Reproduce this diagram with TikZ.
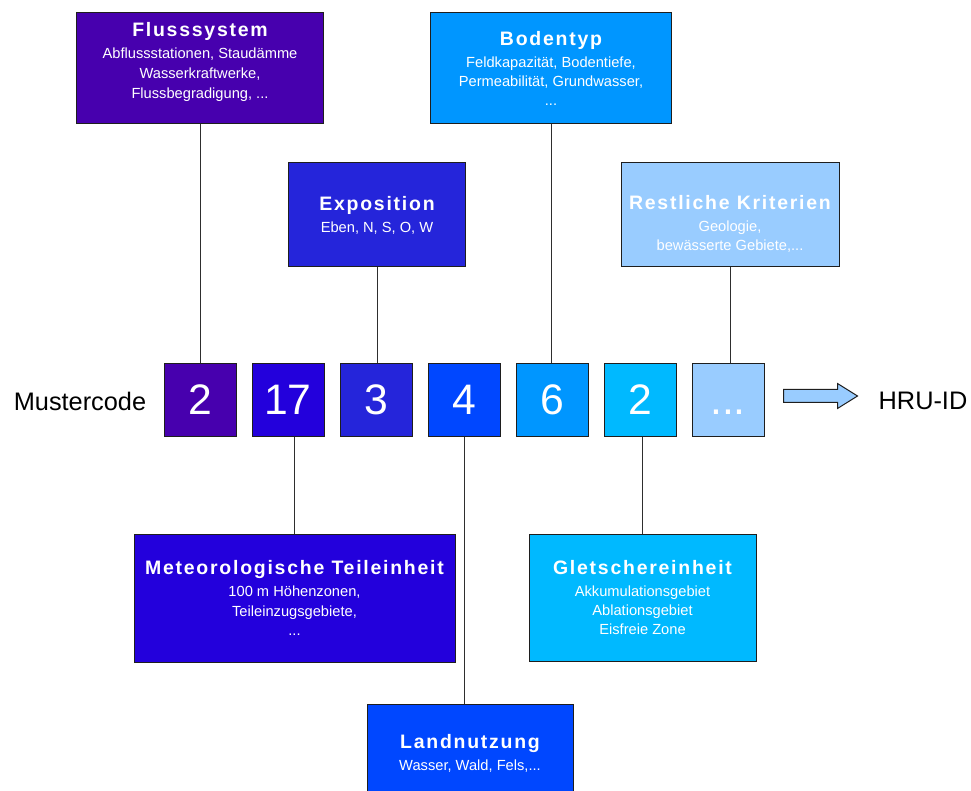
\documentclass[tikz,border=0pt]{standalone}
\usepackage{fontspec}
\setmainfont{Liberation Sans}
\usetikzlibrary{shapes.arrows}
\definecolor{frame}{HTML}{1E1E1E}
\definecolor{wire}{HTML}{2E2E2E}
\definecolor{flusscol}{HTML}{4700AE}
\definecolor{meteocol}{HTML}{2300DC}
\definecolor{expocol}{HTML}{2525DA}
\definecolor{landcol}{HTML}{0047FF}
\definecolor{bodencol}{HTML}{0096FF}
\definecolor{gletschcol}{HTML}{00B9FF}
\definecolor{restcol}{HTML}{99CCFF}
\tikzset{
  infobox/.style={draw=frame,line width=.75pt,text=white,align=center,inner sep=2pt,
    font=\fontsize{11}{14.5}\selectfont},
  codebox/.style={draw=frame,line width=.75pt,text=white,inner sep=0pt,
    minimum width=54pt,minimum height=54.75pt,font=\fontsize{32}{36}\selectfont},
  sidelabel/.style={font=\fontsize{19}{22}\selectfont},
  link/.style={draw=wire,line width=.75pt},
  idarrow/.style={single arrow,draw=frame,fill=restcol,line width=.75pt,inner sep=4.5pt,
    minimum height=55.5pt,single arrow head extend=4.5pt,single arrow tip angle=64},
}
\newcommand{\boxhead}[1]{{\fontsize{14.6}{17}\selectfont\bfseries\addfontfeatures{LetterSpace=9}#1}}
\newcommand{\moredots}{\vphantom{0}...}

\begin{document}
\begin{tikzpicture}[x=.75pt,y=-.75pt]
  \useasboundingbox (0,0) rectangle (971,791);

  % Upper criteria boxes.
  \node[infobox,fill=flusscol,minimum width=185.25pt,minimum height=83.25pt] (flus) at (200,68.5)
    {\boxhead{Flusssystem}\\[2pt] Abflussstationen, Staudämme\\[0.5pt] Wasserkraftwerke,\\[0.5pt]
     Flussbegradigung, ...\\[-2pt]\mbox{}};
  \node[infobox,fill=bodencol,minimum width=180.75pt,minimum height=83.25pt] (boden) at (551,68.5)
    {\boxhead{Bodentyp}\\[2pt] Feldkapazität, Bodentiefe,\\ Permeabilität, Grundwasser,\\ ...};
  \node[infobox,fill=expocol,minimum width=132.75pt,minimum height=78pt] (expo) at (377,215)
    {\boxhead{Exposition}\\[2pt] Eben, N, S, O, W};
  \node[infobox,fill=restcol,minimum width=163.5pt,minimum height=78pt] (rest) at (730,215)
    {\mbox{}\\[9pt]\boxhead{Restliche Kriterien}\\[2pt] Geologie,\\ bewässerte Gebiete,...};

  % Code row.
  \node[sidelabel] (muster) at (80,401) {Mustercode};
  \foreach \name/\x/\col/\txt in {c1/200/flusscol/2,c2/288/meteocol/17,c3/376/expocol/3,
      c4/464/landcol/4,c5/552/bodencol/6,c6/640/gletschcol/2,c7/728/restcol/\moredots}
    \node[codebox,fill=\col] (\name) at (\x,400) {\txt};
  \node[idarrow,anchor=tail] (toid) at (783,396) {};
  \node[sidelabel] (hru) at (923,401) {HRU-ID};

  % Lower criteria boxes.
  \node[infobox,fill=meteocol,minimum width=240.75pt,minimum height=96pt] (meteo) at (294.5,598)
    {\boxhead{Meteorologische Teileinheit}\\[2pt] 100 m Höhenzonen,\\ Teileinzugsgebiete,\\ ...};
  \node[infobox,fill=gletschcol,minimum width=170.25pt,minimum height=95.25pt] (glet) at (642.5,597.5)
    {\boxhead{Gletschereinheit}\\[2pt] Akkumulationsgebiet\\ Ablationsgebiet\\ Eisfreie Zone};
  \node[infobox,fill=landcol,minimum width=154.5pt,minimum height=73.5pt] (land) at (470,753)
    {\boxhead{Landnutzung}\\[2pt] Wasser, Wald, Fels,...};

  % Connectors.
  \draw[link] (flus.south) -- (flus.south |- c1.north);
  \draw[link] (boden.south) -- (boden.south |- c5.north);
  \draw[link] (expo.south) -- (expo.south |- c3.north);
  \draw[link] (rest.south) -- (rest.south |- c7.north);
  \draw[link] (c2.south -| meteo.north) -- (meteo.north);
  \draw[link] (c4.south) -- (c4.south |- land.north);
  \draw[link] (c6.south -| glet.north) -- (glet.north);
\end{tikzpicture}
\end{document}
